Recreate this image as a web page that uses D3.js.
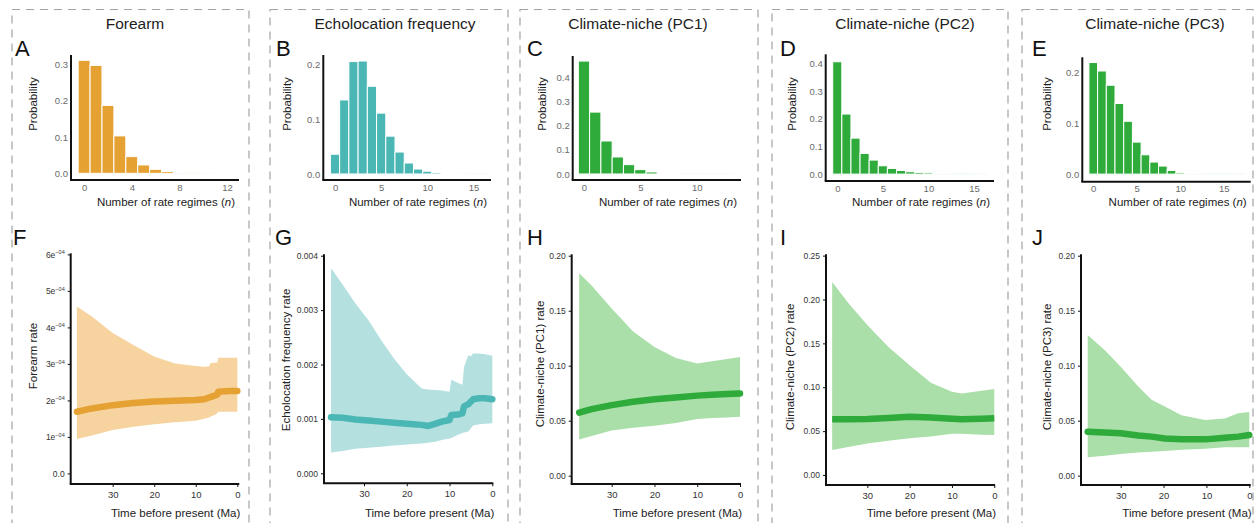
<!DOCTYPE html>
<html>
<head>
<meta charset="utf-8">
<script src="https://cdn.jsdelivr.net/npm/d3@7"></script>
<style>
  body { margin: 0; background: #fff; }
  svg { display: block; font-family: "Liberation Sans", Arial, sans-serif; }
</style>
</head>
<body>
<svg id="fig" width="1258" height="523"></svg>
<script>
// Posterior probability of the number of rate regimes (index = n)
const forearmProb = [0.311, 0.297, 0.187, 0.103, 0.046, 0.023, 0.011, 0.005, 0.0025, 0.0012, 0.0008, 0.0005, 0.0003];
const echoProb = [0.036, 0.135, 0.205, 0.206, 0.160, 0.111, 0.069, 0.040, 0.020, 0.009, 0.005, 0.0025, 0.0015, 0.0008, 0.0006, 0.0004, 0.0005];
const pc1Prob = [0.469, 0.257, 0.137, 0.0706, 0.0388, 0.018, 0.0083, 0.004, 0.0028, 0.0012, 0.0008, 0.0006, 0.0004, 0.0003];
const pc2Prob = [0.406, 0.217, 0.130, 0.0747, 0.0506, 0.030, 0.0205, 0.013, 0.0084, 0.006, 0.005, 0.0025, 0.002, 0.0015, 0.001, 0.0007, 0.0005];
const pc3Prob = [0.2197, 0.203, 0.175, 0.139, 0.104, 0.063, 0.038, 0.0237, 0.0158, 0.0072, 0.0026, 0.0015, 0.0012, 0.0008, 0.0005, 0.0006, 0.0004, 0.0003];

// Rate through time (Ma before present): mean and 95% band
const forearmTime = [38.6, 35, 30, 25, 20, 15, 10, 8, 6.8, 6.5, 5, 4.8, 4.6, 2, 0];
const forearmMean = [1.69e-4, 1.78e-4, 1.87e-4, 1.93e-4, 1.97e-4, 1.99e-4, 2.01e-4, 2.03e-4, 2.08e-4, 2.09e-4, 2.15e-4, 2.16e-4, 2.24e-4, 2.26e-4, 2.26e-4];
const forearmLow = [0.94e-4, 1.04e-4, 1.19e-4, 1.28e-4, 1.35e-4, 1.40e-4, 1.44e-4, 1.50e-4, 1.53e-4, 1.55e-4, 1.63e-4, 1.66e-4, 1.69e-4, 1.69e-4, 1.69e-4];
const forearmHigh = [4.57e-4, 4.30e-4, 3.85e-4, 3.52e-4, 3.20e-4, 3.01e-4, 2.94e-4, 2.92e-4, 2.93e-4, 3.02e-4, 3.04e-4, 3.04e-4, 3.17e-4, 3.17e-4, 3.17e-4];

const echoTime = [37.7, 35, 32, 29, 26, 23, 20, 16.5, 15, 13.4, 11.8, 10, 9.6, 8, 7, 6.6, 5.6, 5, 4.5, 3, 1.7, 0];
const echoMean = [1.03e-3, 1.02e-3, 0.99e-3, 0.97e-3, 0.95e-3, 0.93e-3, 0.91e-3, 0.89e-3, 0.87e-3, 0.91e-3, 0.95e-3, 0.98e-3, 1.07e-3, 1.08e-3, 1.10e-3, 1.23e-3, 1.27e-3, 1.32e-3, 1.36e-3, 1.38e-3, 1.38e-3, 1.36e-3];
const echoLow = [0.38e-3, 0.41e-3, 0.45e-3, 0.47e-3, 0.49e-3, 0.51e-3, 0.53e-3, 0.55e-3, 0.56e-3, 0.58e-3, 0.61e-3, 0.64e-3, 0.65e-3, 0.71e-3, 0.74e-3, 0.75e-3, 0.77e-3, 0.83e-3, 0.88e-3, 0.90e-3, 0.91e-3, 0.92e-3];
const echoHigh = [3.77e-3, 3.47e-3, 3.12e-3, 2.82e-3, 2.45e-3, 2.11e-3, 1.82e-3, 1.56e-3, 1.54e-3, 1.53e-3, 1.52e-3, 1.50e-3, 1.72e-3, 1.66e-3, 1.63e-3, 1.96e-3, 2.17e-3, 2.15e-3, 2.20e-3, 2.20e-3, 2.19e-3, 2.16e-3];

const pc1Time = [37.6, 34.7, 30, 25, 20, 15, 10, 6.6, 3, 0];
const pc1Mean = [0.0573, 0.0605, 0.0642, 0.0672, 0.0695, 0.071, 0.0728, 0.0735, 0.0742, 0.0748];
const pc1Low = [0.033, 0.036, 0.041, 0.0435, 0.0455, 0.048, 0.0515, 0.0525, 0.053, 0.0536];
const pc1High = [0.184, 0.173, 0.152, 0.131, 0.117, 0.107, 0.102, 0.104, 0.106, 0.108];

const pc2Time = [38.3, 34.5, 30, 25, 20, 15, 10, 7.7, 3, 0];
const pc2Mean = [0.0635, 0.0636, 0.0638, 0.065, 0.0665, 0.0655, 0.064, 0.0635, 0.064, 0.0646];
const pc2Low = [0.0285, 0.032, 0.036, 0.039, 0.042, 0.044, 0.047, 0.047, 0.046, 0.0456];
const pc2High = [0.220, 0.196, 0.171, 0.146, 0.125, 0.105, 0.095, 0.093, 0.096, 0.098];

const pc3Time = [37.7, 33.7, 30, 25.9, 22.8, 19.7, 15.8, 10.3, 5.7, 2.6, 0];
const pc3Mean = [0.040, 0.0393, 0.0385, 0.0365, 0.0355, 0.0338, 0.0332, 0.033, 0.0345, 0.0355, 0.037];
const pc3Low = [0.0167, 0.0182, 0.0197, 0.021, 0.0218, 0.0225, 0.0235, 0.0245, 0.0258, 0.0258, 0.0258];
const pc3High = [0.128, 0.114, 0.099, 0.081, 0.069, 0.063, 0.055, 0.0506, 0.052, 0.0567, 0.058];

const titles = ["Forearm", "Echolocation frequency", "Climate-niche (PC1)", "Climate-niche (PC2)", "Climate-niche (PC3)"];
const rateLabels = ["Forearm rate", "Echolocation frequency rate", "Climate-niche (PC1) rate", "Climate-niche (PC2) rate", "Climate-niche (PC3) rate"];
const timeTicks = [30, 20, 10, 0];

const ORANGE = "#e5a132", ORANGE_BAND = "#f6d39f";
const TEAL = "#4ab7b4", TEAL_BAND = "#b4e1e0";
const GREEN = "#2eab3a", GREEN_BAND = "#aadfaa";

const svg = d3.select("#fig");

// dashed column frames
const frames = [[12, 249], [270, 508], [520, 758], [772, 1008], [1022, 1253]];
frames.forEach(([a, b]) => {
    svg.append("rect")
        .attr("x", a).attr("y", 9.5)
        .attr("width", b - a).attr("height", 540)
        .attr("fill", "none")
        .attr("stroke", "#a3a3a3")
        .attr("stroke-width", 1.2)
        .attr("stroke-dasharray", "8,6");
});

const titleX = [135, 395, 638, 905, 1155];
titles.forEach((t, i) => {
    svg.append("text")
        .attr("x", titleX[i]).attr("y", 28.5)
        .attr("text-anchor", "middle")
        .attr("font-size", 15.5)
        .attr("fill", "#222")
        .text(t);
});

const histPanels = [
    {letter: "A", lx: 15, probs: forearmProb, fill: ORANGE, x0: 71, x1: 239, y0: 55, y1: 180, xDom: [-1.1, 13], yDom: [-0.0184, 0.3256], xTicks: [0, 4, 8, 12], yTicks: [0, 0.1, 0.2, 0.3], labX: 33},
    {letter: "B", lx: 276, probs: echoProb, fill: TEAL, x0: 323.3, x1: 491, y0: 55, y1: 180, xDom: [-1.27, 16.9], yDom: [-0.011, 0.217], xTicks: [0, 5, 10, 15], yTicks: [0, 0.1, 0.2], labX: 287},
    {letter: "C", lx: 527, probs: pc1Prob, fill: GREEN, x0: 572.7, x1: 741, y0: 56, y1: 180, xDom: [-1.0, 13.93], yDom: [-0.025, 0.49], xTicks: [0, 5, 10], yTicks: [0, 0.1, 0.2, 0.3, 0.4], labX: 542},
    {letter: "D", lx: 780, probs: pc2Prob, fill: GREEN, x0: 825.7, x1: 994, y0: 54.3, y1: 181, xDom: [-1.27, 17.2], yDom: [-0.025, 0.433], xTicks: [0, 5, 10, 15], yTicks: [0, 0.1, 0.2, 0.3, 0.4], labX: 792},
    {letter: "E", lx: 1032, probs: pc3Prob, fill: GREEN, x0: 1082.3, x1: 1250.7, y0: 57.3, y1: 181.7, xDom: [-1.26, 18.1], yDom: [-0.015, 0.230], xTicks: [0, 5, 10, 15], yTicks: [0, 0.1, 0.2], labX: 1047}
];

const ratePanels = [
    {letter: "F", lx: 13, time: forearmTime, mean: forearmMean, low: forearmLow, high: forearmHigh, line: ORANGE, band: ORANGE_BAND, x0: 70.7, x1: 239.3, y0: 253.3, y1: 484, xDom: [40.1, -0.48], yDom: [-0.29e-4, 6.03e-4], yTicks: [0, 1e-4, 2e-4, 3e-4, 4e-4, 5e-4, 6e-4], fmt: "sci", labX: 33, labY: 356, cap: "round"},
    {letter: "G", lx: 275, time: echoTime, mean: echoMean, low: echoLow, high: echoHigh, line: TEAL, band: TEAL_BAND, x0: 324, x1: 493.3, y0: 254.3, y1: 483.3, xDom: [39.35, -0.23], yDom: [-0.184e-3, 4.026e-3], yTicks: [0, 0.001, 0.002, 0.003, 0.004], fmt: ".3f", labX: 286, labY: 360, cap: "round"},
    {letter: "H", lx: 527, time: pc1Time, mean: pc1Mean, low: pc1Low, high: pc1High, line: GREEN, band: GREEN_BAND, x0: 571.7, x1: 741, y0: 254.3, y1: 484, xDom: [39.35, -0.23], yDom: [-0.00755, 0.2013], yTicks: [0, 0.05, 0.1, 0.15, 0.2], fmt: ".2f", labX: 540, labY: 364, cap: "round"},
    {letter: "I", lx: 780, time: pc2Time, mean: pc2Mean, low: pc2Low, high: pc2High, line: GREEN, band: GREEN_BAND, x0: 826, x1: 995, y0: 254.3, y1: 485, xDom: [39.76, -0.17], yDom: [-0.0114, 0.2515], yTicks: [0, 0.05, 0.1, 0.15, 0.2, 0.25], fmt: ".2f", labX: 790, labY: 367, cap: "butt"},
    {letter: "J", lx: 1032, time: pc3Time, mean: pc3Mean, low: pc3Low, high: pc3High, line: GREEN, band: GREEN_BAND, x0: 1081, x1: 1250.7, y0: 254.3, y1: 485, xDom: [39.26, -0.33], yDom: [-0.0085, 0.2013], yTicks: [0, 0.05, 0.1, 0.15, 0.2], fmt: ".2f", labX: 1047, labY: 367, cap: "round"}
];

function axisFrame(g, p) {
    g.append("line")
        .attr("x1", p.x0).attr("x2", p.x0)
        .attr("y1", p.y0).attr("y2", p.y1)
        .attr("stroke", "#111").attr("stroke-width", 2);
    g.append("line")
        .attr("x1", p.x0 - 1).attr("x2", p.x1)
        .attr("y1", p.y1).attr("y2", p.y1)
        .attr("stroke", "#111").attr("stroke-width", 2);
}

function panelLetter(text, x, y) {
    svg.append("text")
        .attr("x", x).attr("y", y)
        .attr("font-size", 22)
        .attr("fill", "#111")
        .text(text);
}

function drawHistogram(p) {
    const g = svg.append("g");
    const x = d3.scaleLinear().domain(p.xDom).range([p.x0, p.x1]);
    const y = d3.scaleLinear().domain(p.yDom).range([p.y1, p.y0]);
    const data = p.probs.map((v, i) => ({n: i, p: v}));

    g.selectAll("rect")
        .data(data)
        .enter()
        .append("rect")
        .attr("x", d => x(d.n - 0.5))
        .attr("width", d => x(d.n + 0.5) - x(d.n - 0.5))
        .attr("y", d => y(d.p))
        .attr("height", d => y(0) - y(d.p))
        .attr("fill", p.fill)
        .attr("stroke", "#fff")
        .attr("stroke-width", 1);

    const ya = g.append("g")
        .call(d3.axisLeft(y).tickValues(p.yTicks).tickSize(0).tickPadding(3).tickFormat(d3.format(".1f")))
        .attr("transform", `translate(${p.x0},0)`);
    ya.select(".domain").remove();
    ya.attr("font-family", null).attr("font-size", 9.5);
    ya.selectAll("text").attr("fill", "#6b6b6b");

    const xa = g.append("g")
        .attr("transform", `translate(0,${p.y1})`)
        .call(d3.axisBottom(x).tickValues(p.xTicks).tickSize(0).tickPadding(4));
    xa.select(".domain").remove();
    xa.attr("font-family", null).attr("font-size", 9.5);
    xa.selectAll("text").attr("fill", "#6b6b6b");

    axisFrame(g, p);

    const xt = g.append("text")
        .attr("x", p.x1 - 4).attr("y", 206)
        .attr("text-anchor", "end")
        .attr("font-size", 11.5)
        .attr("fill", "#222")
        .text("Number of rate regimes (");
    xt.append("tspan").attr("font-style", "italic").text("n");
    xt.append("tspan").text(")");

    g.append("text")
        .attr("transform", `translate(${p.labX},104) rotate(-90)`)
        .attr("text-anchor", "middle")
        .attr("dy", "0.35em")
        .attr("font-size", 11.5)
        .attr("fill", "#222")
        .text("Probability");

    panelLetter(p.letter, p.lx, 56);
}

function drawRate(p, i) {
    const g = svg.append("g");
    const x = d3.scaleLinear().domain(p.xDom).range([p.x0, p.x1]);
    const y = d3.scaleLinear().domain(p.yDom).range([p.y1, p.y0]);
    const data = p.time.map((t, k) => ({t: t, m: p.mean[k], lo: p.low[k], hi: p.high[k]}));

    g.append("path")
        .datum(data)
        .attr("d", d3.area().x(d => x(d.t)).y0(d => y(d.lo)).y1(d => y(d.hi)))
        .attr("fill", p.band);

    g.append("path")
        .datum(data)
        .attr("d", d3.line().x(d => x(d.t)).y(d => y(d.m)))
        .attr("fill", "none")
        .attr("stroke", p.line)
        .attr("stroke-width", 6.5)
        .attr("stroke-linecap", p.cap)
        .attr("stroke-linejoin", "round");

    const ya = g.append("g")
        .attr("transform", `translate(${p.x0},0)`)
        .call(d3.axisLeft(y).tickValues(p.yTicks).tickSize(3).tickPadding(3)
            .tickFormat(p.fmt === "sci" ? (d => d === 0 ? "0.0" : Math.round(d * 1e4) + "e") : d3.format(p.fmt)));
    ya.select(".domain").remove();
    ya.attr("font-family", null).attr("font-size", 8.5);
    ya.selectAll("line").attr("stroke", "#111");
    ya.selectAll("text").attr("fill", "#333");
    if (p.fmt === "sci") {
        ya.selectAll("text").filter(d => d !== 0)
            .append("tspan")
            .attr("font-size", 5.5)
            .attr("dy", "-0.6em")
            .text("\u221204");
    }

    const xa = g.append("g")
        .attr("transform", `translate(0,${p.y1})`)
        .call(d3.axisBottom(x).tickValues(timeTicks).tickSize(3).tickPadding(4));
    xa.select(".domain").remove();
    xa.attr("font-family", null).attr("font-size", 9.5);
    xa.selectAll("line").attr("stroke", "#111");
    xa.selectAll("text").attr("fill", "#333");

    axisFrame(g, p);

    g.append("text")
        .attr("x", p.x1 + 1).attr("y", 517)
        .attr("text-anchor", "end")
        .attr("font-size", 11.5)
        .attr("fill", "#222")
        .text("Time before present (Ma)");

    g.append("text")
        .attr("transform", `translate(${p.labX},${p.labY}) rotate(-90)`)
        .attr("text-anchor", "middle")
        .attr("dy", "0.35em")
        .attr("font-size", 11.5)
        .attr("fill", "#222")
        .text(rateLabels[i]);

    panelLetter(p.letter, p.lx, 245);
}

histPanels.forEach(drawHistogram);
ratePanels.forEach(drawRate);
</script>
</body>
</html>
